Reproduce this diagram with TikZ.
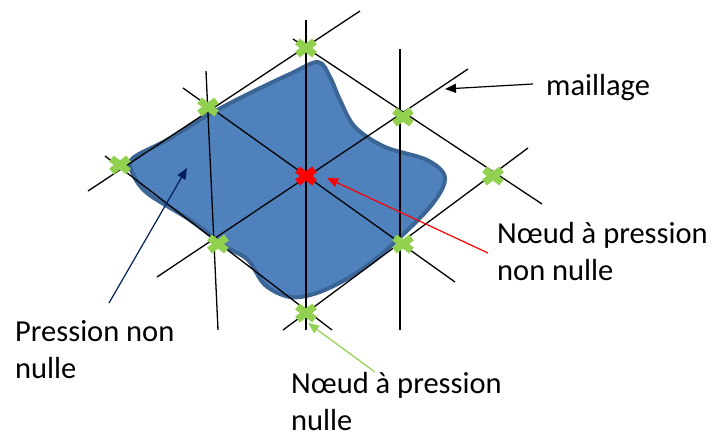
\documentclass[tikz,border=0pt]{standalone}
\usepackage{fontspec}
\setmainfont{Carlito}
\usetikzlibrary{arrows.meta}
\definecolor{bleu}{HTML}{4F81BD}
\definecolor{bleufonce}{HTML}{3A6595}
\definecolor{vert}{HTML}{92D050}
\definecolor{marine}{HTML}{002060}

\begin{document}
\begin{tikzpicture}[x=1pt, y=-1pt,
    maille/.style={line width=1.3pt},
    croix/.style={line width=7.5pt},
    fleche/.style={line width=1.2pt, -{Triangle[length=11pt, width=9pt]}},
    legende/.style={font=\fontsize{30.5}{37}\selectfont, align=left, inner sep=0pt, anchor=base west}]
    \useasboundingbox (0,0) rectangle (716,439);
    % noeuds du maillage
    \coordinate (T) at (306,48); \coordinate (UL) at (208,107); \coordinate (L) at (120,165);
    \coordinate (C) at (306,176); \coordinate (UR) at (403,117); \coordinate (R) at (493,176);
    \coordinate (LL) at (218,244); \coordinate (LR) at (403,244); \coordinate (B) at (306,313);

    % zone a pression non nulle
    \filldraw[fill=bleu, draw=bleufonce, line width=4pt, line join=round]
        plot[smooth cycle, tension=0.55] coordinates {(133,158) (167,140) (210,114) (250,93) (290,74) (318,62)
        (330,77) (340,100) (355,127) (385,147) (427,160) (445,178) (430,207) (383,253) (350,277) (317,293)
        (290,297) (265,285) (248,260) (225,246) (190,220) (147,193) (132,172)};

    % maillage
    \coordinate (v1a) at (206,71);  \coordinate (v1b) at (218,330);
    \coordinate (v2a) at (306,20);  \coordinate (v2b) at (306,330);
    \coordinate (v3a) at (400,49);  \coordinate (v3b) at (400,330);
    \coordinate (a1a) at (88,191);  \coordinate (a1b) at (360,11);
    \coordinate (a2a) at (157,277); \coordinate (a2b) at (468,69);
    \coordinate (a3a) at (283,330); \coordinate (a3b) at (528,148);
    \coordinate (b1a) at (293,39);  \coordinate (b1b) at (542,204);
    \coordinate (b2a) at (183,88);  \coordinate (b2b) at (455,282);
    \coordinate (b3a) at (105,156); \coordinate (b3b) at (332,330);
    \foreach \l in {v1,v2,a1,a2,a3,b1,b2,b3} \draw[maille] (\l a) -- (\l b);
    \draw[maille, line width=2pt] (v3a) -- (v3b);

    \foreach \p in {T,UL,L,UR,R,LL,LR,B} \draw[croix, vert] (\p) ++(-8.5,-6.5) -- ++(17,13) (\p) ++(-8.5,6.5) -- ++(17,-13);
    \draw[croix, red] (C) ++(-8.5,-6.5) -- ++(17,13) (C) ++(-8.5,6.5) -- ++(17,-13);

    % legendes
    \node[legende] (maillage) at (546,95) {maillage};
    \node[legende] (nonnul) at (497,280) {Nœud à pression\\non nulle};
    \node[legende] (pression) at (15,378) {Pression non\\nulle};
    \node[legende] (nul) at (291,430) {Nœud à pression\\nulle};

    \coordinate (m0) at (533,84);  \coordinate (m1) at (445,89);
    \coordinate (r0) at (488,253); \coordinate (r1) at (327,178);
    \coordinate (p0) at (109,303); \coordinate (p1) at (187,168);
    \coordinate (n0) at (375,372); \coordinate (n1) at (308,323);
    \draw[fleche] (m0) -- (m1);
    \draw[fleche, red] (r0) -- (r1);
    \draw[fleche, marine] (p0) -- (p1);
    \draw[fleche, vert] (n0) -- (n1);
\end{tikzpicture}
\end{document}
